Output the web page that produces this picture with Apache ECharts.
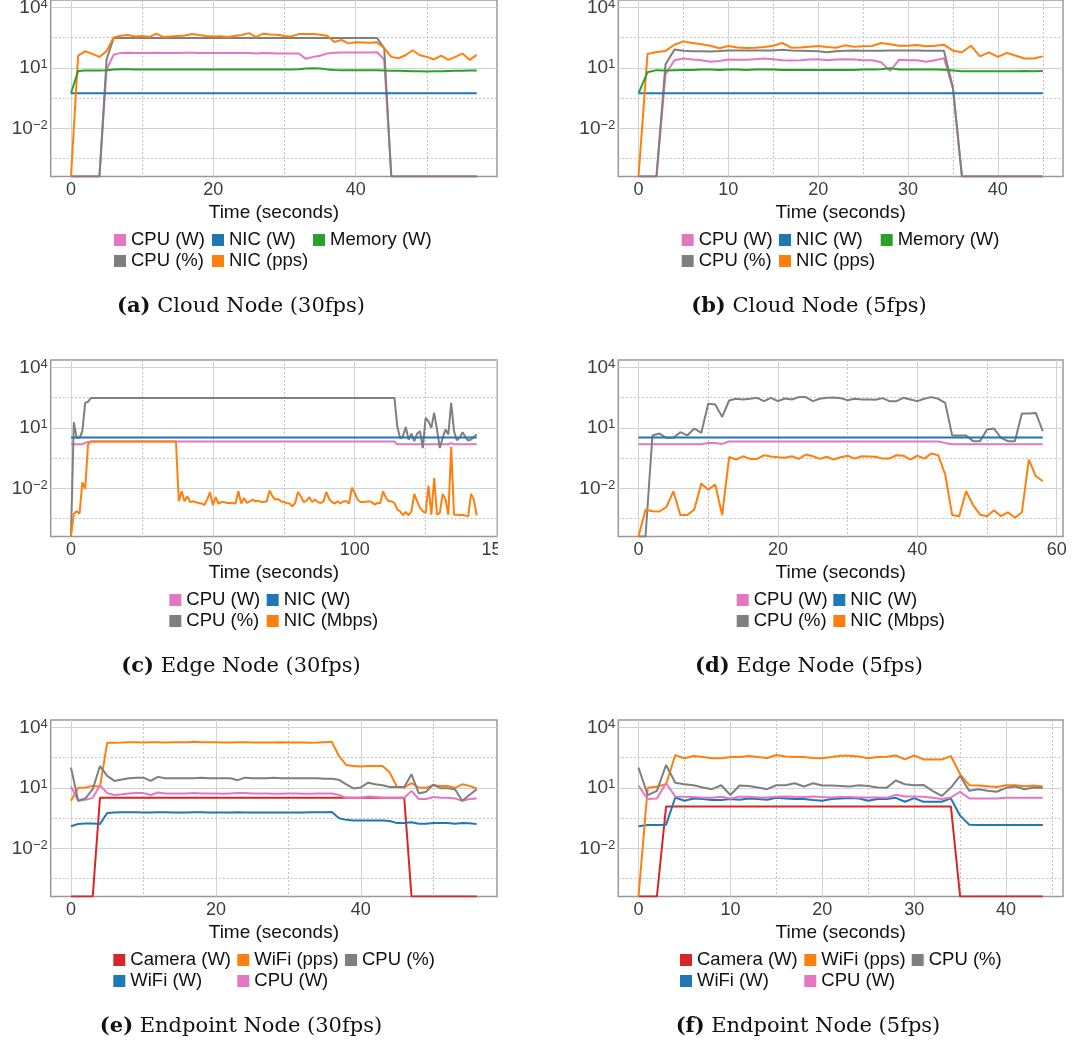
<!DOCTYPE html>
<html>
<head>
<meta charset="utf-8">
<title>Node power / load traces</title>
<script src="https://cdn.jsdelivr.net/npm/echarts@6/dist/echarts.min.js"></script>
<style>
  body { margin: 0; background: #fff; width: 1073px; height: 1042px; position: relative; overflow: hidden; }
  .panel { position: absolute; }
</style>
</head>
<body>
<div id="pa" class="panel" style="left:0;top:-1px;width:498px;height:342px"></div>
<div id="pb" class="panel" style="left:560px;top:-1px;width:513px;height:342px"></div>
<div id="pc" class="panel" style="left:0;top:359px;width:498px;height:342px"></div>
<div id="pd" class="panel" style="left:560px;top:359px;width:513px;height:342px"></div>
<div id="pe" class="panel" style="left:0;top:719px;width:498px;height:323px"></div>
<div id="pf" class="panel" style="left:560px;top:719px;width:513px;height:323px"></div>
<script>
// one sample per second, index = time in seconds. 0 = nothing measured (drawn on the bottom edge)

// (a) Cloud node, 30fps
var aCpuW = [
  0, 0, 0, 0, 0, 8.3, 45,
  55, 56, 55, 55, 55, 56, 55, 55, 55, 56, 56, 55, 54, 54, 54, 54, 55, 55, 54, 52, 54, 53, 52, 52, 52, 51,
  28, 35, 40, 52, 56, 57, 57, 57, 57, 57, 59, 26,
  0, 0, 0, 0, 0, 0, 0, 0, 0, 0, 0, 0, 0
];
var aCpuPct = [
  0, 0, 0, 0, 0, 26,
  300, 300, 300, 300, 300, 300, 300, 300, 300, 300, 300, 300, 300, 300, 300, 300, 300, 300,
  300, 300, 300, 300, 300, 300, 300, 300, 300, 300, 300, 300, 300, 300, 300, 300, 300, 300,
  300, 300,
  96,
  0, 0, 0, 0, 0, 0, 0, 0, 0, 0, 0, 0, 0
];
var aNicW = [
  0.55, 0.55, 0.55, 0.55, 0.55, 0.55, 0.55, 0.55, 0.55, 0.55, 0.55, 0.55, 0.55, 0.55, 0.55, 0.55, 0.55, 0.55,
  0.55, 0.55, 0.55, 0.55, 0.55, 0.55, 0.55, 0.55, 0.55, 0.55, 0.55, 0.55, 0.55, 0.55, 0.55, 0.55, 0.55, 0.55,
  0.55, 0.55, 0.55, 0.55, 0.55, 0.55, 0.55, 0.55, 0.55, 0.55, 0.55, 0.55, 0.55, 0.55, 0.55, 0.55, 0.55, 0.55,
  0.55, 0.55, 0.55, 0.55
];
var aNicPps = [
  0, 40, 66, 49, 35, 66, 323, 390, 420, 360,
  375, 333, 490, 333, 360, 380, 400, 470, 420, 380,
  360, 370, 333, 380, 420, 525, 333, 490, 450, 435,
  380, 360, 470, 470, 470, 430, 390, 190, 240, 163,
  183, 180, 175, 183, 96, 35, 30, 42, 74, 42,
  35, 26, 40, 25, 35, 51, 25, 44
];
var aMem = [
  0.55, 6.9, 7.4, 7.4, 7.5, 7.6, 8.4, 8.6, 8.6, 8.4,
  8.4, 8.2, 8.2, 8.2, 8.2, 8.2, 8.4, 8.4, 8.2, 8.2,
  8.2, 8.2, 8.2, 8.2, 8.2, 8.4, 8.2, 8.2, 8.2, 8.2,
  8.2, 8.4, 8.6, 9.4, 9.6, 9.4, 8.4, 7.9, 7.7, 7.7,
  7.7, 7.7, 7.7, 7.7, 7.4, 7.2, 7.2, 7.0, 6.8, 6.8,
  6.6, 6.8, 6.8, 7.0, 7.2, 7.2, 7.4, 7.4
];

// (b) Cloud node, 5fps
var bCpuW = [
  0, 0, 0, 4.7, 24, 29, 26, 24, 20, 22,
  26, 25, 25, 27, 29, 27, 24, 23, 24, 26,
  27, 24, 26, 27, 26, 24, 24, 19, 7.1, 25,
  24, 24, 20, 24, 30, 0.93, 0, 0, 0, 0,
  0, 0, 0, 0, 0, 0
];
var bCpuPct = [
  0, 0, 0, 14.6, 80, 71, 67, 66, 65, 68,
  72, 72, 72, 72, 72, 72, 78, 72, 70, 68,
  66, 60, 66, 70, 72, 70, 70, 70, 72, 72,
  72, 72, 70, 70, 71, 1.04, 0, 0, 0, 0,
  0, 0, 0, 0, 0, 0
];
var bNicW = [
  0.55, 0.55, 0.55, 0.55, 0.55, 0.55, 0.55, 0.55, 0.55, 0.55, 0.55, 0.55, 0.55, 0.55, 0.55, 0.55, 0.55, 0.55,
  0.55, 0.55, 0.55, 0.55, 0.55, 0.55, 0.55, 0.55, 0.55, 0.55, 0.55, 0.55, 0.55, 0.55, 0.55, 0.55, 0.55, 0.55,
  0.55, 0.55, 0.55, 0.55, 0.55, 0.55, 0.55, 0.55, 0.55, 0.55
];
var bNicPps = [
  0, 49, 61, 69, 140, 205, 170, 146, 125, 93,
  120, 103, 96, 100, 108, 125, 170, 100, 103, 112,
  120, 108, 100, 130, 112, 116, 120, 170, 146, 125,
  125, 135, 116, 125, 140, 71, 59, 125, 37, 59,
  35, 55, 40, 29, 29, 37
];
var bMem = [
  0.55, 6.1, 7.7, 7.4, 7.7, 7.9, 7.9, 8.2, 8.2, 7.9,
  8.2, 8.2, 7.9, 8.2, 8.2, 8.4, 7.9, 7.9, 7.9, 7.9,
  7.9, 7.9, 7.9, 7.9, 7.9, 8.2, 8.2, 8.6, 9.6, 8.2,
  8.2, 8.2, 8.2, 8.2, 8.0, 7.4, 6.8, 6.8, 6.8, 6.8,
  6.8, 6.8, 6.8, 7.0, 6.8, 7.0
];

// (c) Edge node, 30fps
var cCpuW = [
  1.55, 1.55, 1.55, 1.55, 1.55, 1.8, 2.0,
  2.1, 2.1, 2.1, 2.1, 2.1, 2.1, 2.1, 2.1, 2.1, 2.1, 2.1, 2.1, 2.1, 2.1, 2.1, 2.1, 2.1, 2.1,
  2.1, 2.1, 2.1, 2.1, 2.1, 2.1, 2.1, 2.1, 2.1, 2.1, 2.1, 2.1, 2.1, 2.1, 2.1, 2.1, 2.1, 2.1,
  2.1, 2.1, 2.1, 2.1, 2.1, 2.1, 2.1, 2.1, 2.1, 2.1, 2.1, 2.1, 2.1, 2.1, 2.1, 2.1, 2.1, 2.1,
  2.1, 2.1, 2.1, 2.1, 2.1, 2.1, 2.1, 2.1, 2.1, 2.1, 2.1, 2.1, 2.1, 2.1, 2.1, 2.1, 2.1, 2.1,
  2.1, 2.1, 2.1, 2.1, 2.1, 2.1, 2.1, 2.1, 2.1, 2.1, 2.1, 2.1, 2.1, 2.1, 2.1, 2.1, 2.1, 2.1,
  2.1, 2.1, 2.1, 2.1, 2.1, 2.1, 2.1, 2.1, 2.1, 2.1, 2.1, 2.1, 2.1, 2.1, 2.1, 2.1, 2.1, 2.1,
  1.55, 1.55, 1.55, 1.55, 1.55, 1.55, 1.55, 1.55, 1.55, 1.55, 1.55, 1.55, 1.55, 1.55, 1.55, 1.55, 1.55, 1.55, 1.55,
  1.75,
  1.55, 1.55, 1.55, 1.55, 1.55, 1.55, 1.55, 1.55, 1.55
];
var cCpuPct = [
  0, 19, 3.2, 3.2, 6.8, 173, 195,
  300, 300, 300, 300, 300, 300, 300, 300, 300, 300, 300, 300, 300, 300, 300, 300, 300, 300,
  300, 300, 300, 300, 300, 300, 300, 300, 300, 300, 300, 300, 300, 300, 300, 300, 300, 300,
  300, 300, 300, 300, 300, 300, 300, 300, 300, 300, 300, 300, 300, 300, 300, 300, 300, 300,
  300, 300, 300, 300, 300, 300, 300, 300, 300, 300, 300, 300, 300, 300, 300, 300, 300, 300,
  300, 300, 300, 300, 300, 300, 300, 300, 300, 300, 300, 300, 300, 300, 300, 300, 300, 300,
  300, 300, 300, 300, 300, 300, 300, 300, 300, 300, 300, 300, 300, 300, 300, 300, 300, 300,
  12, 3.0, 3.9, 11, 2.6, 5.2, 2.2, 5.2, 6.8, 1.0,
  31, 21, 10, 55, 8.3, 1.0, 3.2, 8.3, 4.7, 173,
  6.8, 2.45, 3.2, 6.1, 3.6, 2.35, 2.6, 3.6, 4.7
];
var cNicW = [
  3.3, 3.3, 3.3, 3.3, 3.3, 3.3, 3.3, 3.3, 3.3, 3.3, 3.3, 3.3, 3.3, 3.3, 3.3, 3.3, 3.3, 3.3,
  3.3, 3.3, 3.3, 3.3, 3.3, 3.3, 3.3, 3.3, 3.3, 3.3, 3.3, 3.3, 3.3, 3.3, 3.3, 3.3, 3.3, 3.3,
  3.3, 3.3, 3.3, 3.3, 3.3, 3.3, 3.3, 3.3, 3.3, 3.3, 3.3, 3.3, 3.3, 3.3, 3.3, 3.3, 3.3, 3.3,
  3.3, 3.3, 3.3, 3.3, 3.3, 3.3, 3.3, 3.3, 3.3, 3.3, 3.3, 3.3, 3.3, 3.3, 3.3, 3.3, 3.3, 3.3,
  3.3, 3.3, 3.3, 3.3, 3.3, 3.3, 3.3, 3.3, 3.3, 3.3, 3.3, 3.3, 3.3, 3.3, 3.3, 3.3, 3.3, 3.3,
  3.3, 3.3, 3.3, 3.3, 3.3, 3.3, 3.3, 3.3, 3.3, 3.3, 3.3, 3.3, 3.3, 3.3, 3.3, 3.3, 3.3, 3.3,
  3.3, 3.3, 3.3, 3.3, 3.3, 3.3, 3.3, 3.3, 3.3, 3.3, 3.3, 3.3, 3.3, 3.3, 3.3, 3.3, 3.3, 3.3,
  3.3, 3.3, 3.3, 3.3, 3.3, 3.3, 3.3, 3.3, 3.3, 3.3, 3.3, 3.3, 3.3, 3.3, 3.3, 3.3, 3.3, 3.3
];
var cNicMbps = [
  0, 0.00056, 0.00074, 0.00056, 0.020, 0.0095, 1.5, 2.1, 2.1, 2.1,
  2.1, 2.1, 2.1, 2.1, 2.1, 2.1, 2.1, 2.1, 2.1, 2.1,
  2.1, 2.1, 2.1, 2.1, 2.1, 2.1, 2.1, 2.1, 2.1, 2.1,
  2.1, 2.1, 2.1, 2.1, 2.1, 2.1, 2.1, 2.1,
  0.0023, 0.0072,
  0.0023, 0.0041, 0.0021, 0.0023, 0.0021, 0.0019, 0.0018, 0.0015, 0.0028, 0.0065,
  0.0015, 0.0037, 0.0018, 0.0021, 0.0021, 0.0019, 0.0019, 0.0019, 0.0018, 0.0072,
  0.0018, 0.0034, 0.0019, 0.0023, 0.0028, 0.0023, 0.0025, 0.0021, 0.0021, 0.0023,
  0.0078, 0.0041, 0.0028, 0.0030, 0.0023, 0.0021, 0.0019, 0.0018, 0.0013, 0.0019,
  0.0067, 0.0041, 0.0021, 0.0025, 0.0037, 0.0021, 0.0028, 0.0021, 0.0019, 0.0023,
  0.0067, 0.0030, 0.0021, 0.0018, 0.0023, 0.0018, 0.0023, 0.0023, 0.0018, 0.011,
  0.0060, 0.0028, 0.0021, 0.0021, 0.0022, 0.0023, 0.0021, 0.0016, 0.0019, 0.0019,
  0.0072, 0.0034, 0.0023, 0.0023, 0.0019, 0.00089, 0.00074, 0.00047, 0.00068, 0.00047,
  0.00074, 0.0054, 0.0023, 0.0011, 0.00074, 0.00061, 0.0138, 0.0005, 0.033, 0.0005,
  0.00061, 0.0054, 0.0028, 0.0005, 1.14, 0.0005, 0.0005, 0.00047, 0.0005, 0.00045,
  0.00042, 0.0054, 0.0028, 0.00045
];

// (d) Edge node, 5fps
var dCpuW = [
  1.55, 1.55, 1.55, 1.55, 1.55, 1.55, 1.55, 1.55, 1.55, 1.55,
  1.8, 1.8, 1.6,
  2.1, 2.1, 2.1, 2.1, 2.1, 2.1, 2.1, 2.1, 2.1, 2.1, 2.1, 2.1, 2.1, 2.1, 2.1, 2.1, 2.1, 2.1,
  2.1, 2.1, 2.1, 2.1, 2.1, 2.1, 2.1, 2.1, 2.1, 2.1, 2.1, 2.1, 2.1,
  1.8,
  1.55, 1.55, 1.55, 1.55, 1.55, 1.55, 1.55, 1.55, 1.55, 1.55, 1.55, 1.55, 1.55, 1.55
];
var dCpuPct = [
  0, 0, 4.2, 5.2, 3.2, 3.2, 6.1, 4.2, 9.3, 5.6,
  155, 144, 35, 226, 275, 254, 275, 307, 210, 307,
  210, 285, 254, 333, 333, 210, 275, 307, 320, 296,
  235, 275, 254, 254, 245, 296, 210, 210, 307, 254,
  210, 275, 333, 275, 173, 4.2, 4.2, 4.2, 2.2, 2.2,
  8.3, 9.3, 3.2, 2.2, 2.2, 51, 51, 55, 6.8
];
var dNicW = [
  3.3, 3.3, 3.3, 3.3, 3.3, 3.3, 3.3, 3.3, 3.3, 3.3, 3.3, 3.3, 3.3, 3.3, 3.3, 3.3, 3.3, 3.3,
  3.3, 3.3, 3.3, 3.3, 3.3, 3.3, 3.3, 3.3, 3.3, 3.3, 3.3, 3.3, 3.3, 3.3, 3.3, 3.3, 3.3, 3.3,
  3.3, 3.3, 3.3, 3.3, 3.3, 3.3, 3.3, 3.3, 3.3, 3.3, 3.3, 3.3, 3.3, 3.3, 3.3, 3.3, 3.3, 3.3,
  3.3, 3.3, 3.3, 3.3, 3.3
];
var dNicMbps = [
  0, 0.00089, 0.00074, 0.00072, 0.0012, 0.0072, 0.00048, 0.00048, 0.00089, 0.0174,
  0.0087, 0.0155, 0.00048, 0.36, 0.27, 0.39, 0.29, 0.29, 0.44, 0.38,
  0.35, 0.33, 0.39, 0.29, 0.48, 0.39, 0.29, 0.37, 0.27, 0.35,
  0.42, 0.30, 0.39, 0.38, 0.37, 0.30, 0.30, 0.44, 0.42, 0.27,
  0.42, 0.30, 0.54, 0.44, 0.049, 0.00048, 0.00042, 0.0072, 0.0015, 0.0005,
  0.00042, 0.00084, 0.00042, 0.00066, 0.00035, 0.00066, 0.27, 0.040, 0.023
];

// (e) Endpoint node, 30fps
var eCamW = [
  0, 0, 0, 0,
  3.2, 3.2, 3.2, 3.2, 3.2, 3.2, 3.2, 3.2, 3.2, 3.2, 3.2, 3.2, 3.2, 3.2, 3.2, 3.2, 3.2, 3.2,
  3.2, 3.2, 3.2, 3.2, 3.2, 3.2, 3.2, 3.2, 3.2, 3.2, 3.2, 3.2, 3.2, 3.2, 3.2, 3.2, 3.2, 3.2,
  3.2, 3.2, 3.2, 3.2, 3.2, 3.2, 3.2,
  0, 0, 0, 0, 0, 0, 0, 0, 0, 0
];
var eWifiW = [
  0.126, 0.164, 0.17, 0.17, 0.164, 0.57,
  0.61, 0.62, 0.62, 0.62, 0.61, 0.61, 0.62, 0.62, 0.61, 0.61, 0.61, 0.62, 0.62, 0.61, 0.61, 0.61,
  0.61, 0.62, 0.61, 0.61, 0.61, 0.61, 0.61, 0.61, 0.61, 0.61, 0.61, 0.62, 0.62, 0.62, 0.63,
  0.31, 0.26, 0.24, 0.24, 0.24, 0.24, 0.24, 0.23, 0.18, 0.18,
  0.196, 0.165, 0.165, 0.18, 0.18, 0.18, 0.165, 0.18, 0.175, 0.16
];
var eWifiPps = [
  2.3, 10, 10.4, 12.5, 11.6, 1700,
  1700, 1760, 1830, 1830, 1760, 1830, 1830, 1760, 1830, 1830,
  1830, 1900, 1830, 1830, 1830, 1760, 1760, 1830, 1830, 1760,
  1760, 1760, 1760, 1830, 1760, 1760, 1760, 1700, 1760, 1830, 1900,
  370, 135, 120, 115, 120, 120, 120, 57, 11, 10.4,
  17, 10.4, 10, 13.5, 12.5, 12.5, 10, 15, 12.5, 9.3
];
var eCpuW = [
  11.6, 2.3, 2.6, 3.2, 13.5, 5.5, 4.4, 4.8, 5.3, 5.5, 5.5, 4.4, 5.9,
  5.3, 5.3, 5.3, 5.3, 5.5, 5.3, 5.3, 5.3, 5.1, 5.3,
  5.5, 5.5, 5.3, 5.3, 5.3, 5.1, 5.1, 5.3, 5.3, 5.1,
  5.1, 5.3, 5.3, 5.3,
  4.4, 3.2, 3.2, 3.2, 3.7, 3.5, 3.2, 3.2, 3.2, 3.2,
  7.1, 2.8, 2.8, 3.5, 3.2, 3.2, 3.0, 2.3, 2.8, 3.0
];
var eCpuPct = [
  100, 2.3, 3.0, 8.6, 120, 39, 22, 26, 30, 32, 32, 22, 35,
  30, 30, 30, 30, 30, 32, 30, 30, 30, 30,
  24, 32, 30, 30, 30, 32, 30, 30, 30, 30,
  30, 30, 28, 28,
  25, 15, 9.3, 10.4, 18, 15, 13.5, 11, 11, 11,
  47, 5.3, 6.4, 14.6, 9.6, 9.6, 8.6, 2.3, 4.4, 8.6
];

// (f) Endpoint node, 5fps
var fCamW = [
  0, 0, 0,
  1.2, 1.2, 1.2, 1.2, 1.2, 1.2, 1.2, 1.2, 1.2, 1.2, 1.2, 1.2, 1.2, 1.2, 1.2, 1.2, 1.2, 1.2,
  1.2, 1.2, 1.2, 1.2, 1.2, 1.2, 1.2, 1.2, 1.2, 1.2, 1.2, 1.2, 1.2, 1.2,
  0, 0, 0, 0, 0, 0, 0, 0, 0, 0
];
var fWifiW = [
  0.126, 0.145, 0.145, 0.15, 3.35, 2.3, 3.0, 2.8, 2.5, 2.5,
  2.8, 2.6, 3.0, 2.8, 2.6, 3.2, 3.0, 2.8, 2.8, 2.5,
  2.3, 2.8, 3.0, 3.1, 3.0, 2.3, 2.8, 2.8, 3.2, 2.05,
  3.1, 2.05, 2.05, 2.05, 3.0, 0.42, 0.15, 0.145, 0.145, 0.145,
  0.145, 0.145, 0.145, 0.145, 0.145
];
var fWifiPps = [
  0, 10, 11.6, 15, 420, 290, 375, 335, 290, 290,
  335, 335, 375, 335, 300, 420, 360, 335, 335, 300,
  290, 335, 390, 390, 360, 290, 335, 350, 400, 255,
  400, 255, 255, 255, 375, 47, 13.5, 13, 12, 11,
  13.5, 13.5, 12, 13, 11.6
];
var fCpuW = [
  12.5, 2.8, 3.0, 17, 3.75, 3.6, 3.5, 3.2, 3.2, 3.6,
  3.0, 3.6, 3.6, 3.35, 3.35, 3.6, 3.75, 3.6, 3.5, 3.75,
  3.5, 3.35, 3.5, 3.5, 3.35, 3.35, 3.35, 3.2, 4.5, 3.75,
  3.75, 3.6, 3.2, 2.8, 3.35, 6.4, 3.0, 3.0, 3.0, 3.0,
  3.2, 3.2, 3.2, 3.2, 3.2
];
var fCpuPct = [
  100, 4.4, 7.1, 135, 18, 15, 13.5, 10.4, 8.6, 13.5,
  4.4, 13, 12.5, 10.4, 8.6, 13.5, 13.5, 17, 11.6, 17,
  13, 13, 12.5, 11.6, 13.5, 12.5, 10.4, 10, 23, 15,
  13.5, 14, 7.1, 4.0, 10.4, 39, 7.1, 8.6, 7.1, 6.4,
  10, 11.6, 8.6, 10.4, 10
];

// log10 axis ticks
var yMajor = [-2, 1, 4];
var yMinor = [-3.5, -0.5, 2.5];

var PINK = '#e377c2', GREY = '#7f7f7f', BLUE = '#1f77b4', ORANGE = '#ff7f0e', GREEN = '#2ca02c', RED = '#d62728';
var YMIN = -4.38, YMAX = 4.36;
var SANS = 'Liberation Sans', SERIF = 'DejaVu Serif';

function lg(v) {
  return v > 0 ? Math.log10(v) : YMIN;
}

var panels = [
  {id: 'pa', tag: '(a)', cap: 'Cloud Node (30fps)', left: 50.7, width: 446.3, capX: 241,
   xmin: -2.85, xmax: 59.85, major: [0, 20, 40], minor: [10, 30, 50],
   lines: [['CPU (W)', aCpuW, PINK], ['CPU (%)', aCpuPct, GREY], ['NIC (W)', aNicW, BLUE], ['NIC (pps)', aNicPps, ORANGE], ['Memory (W)', aMem, GREEN]],
   cols: [[114, ['CPU (W)', 'CPU (%)']], [212, ['NIC (W)', 'NIC (pps)']], [313, ['Memory (W)']]]},
  {id: 'pb', tag: '(b)', cap: 'Cloud Node (5fps)', left: 58.3, width: 444.7, capX: 249,
   xmin: -2.25, xmax: 47.25, major: [0, 10, 20, 30, 40], minor: [5, 15, 25, 35, 45],
   lines: [['CPU (W)', bCpuW, PINK], ['CPU (%)', bCpuPct, GREY], ['NIC (W)', bNicW, BLUE], ['NIC (pps)', bNicPps, ORANGE], ['Memory (W)', bMem, GREEN]],
   cols: [[121.7, ['CPU (W)', 'CPU (%)']], [219, ['NIC (W)', 'NIC (pps)']], [320.7, ['Memory (W)']]]},
  {id: 'pc', tag: '(c)', cap: 'Edge Node (30fps)', left: 50.7, width: 446.3, capX: 241,
   xmin: -7.15, xmax: 150.15, major: [0, 50, 100, 150], minor: [25, 75, 125],
   lines: [['CPU (W)', cCpuW, PINK], ['CPU (%)', cCpuPct, GREY], ['NIC (W)', cNicW, BLUE], ['NIC (Mbps)', cNicMbps, ORANGE]],
   cols: [[169.3, ['CPU (W)', 'CPU (%)']], [266.7, ['NIC (W)', 'NIC (Mbps)']]]},
  {id: 'pd', tag: '(d)', cap: 'Edge Node (5fps)', left: 58.3, width: 444.7, capX: 249,
   xmin: -2.9, xmax: 60.9, major: [0, 20, 40, 60], minor: [10, 30, 50],
   lines: [['CPU (W)', dCpuW, PINK], ['CPU (%)', dCpuPct, GREY], ['NIC (W)', dNicW, BLUE], ['NIC (Mbps)', dNicMbps, ORANGE]],
   cols: [[176.7, ['CPU (W)', 'CPU (%)']], [273.3, ['NIC (W)', 'NIC (Mbps)']]]},
  {id: 'pe', tag: '(e)', cap: 'Endpoint Node (30fps)', left: 50.7, width: 446.3, capX: 241,
   xmin: -2.8, xmax: 58.8, major: [0, 20, 40], minor: [10, 30, 50],
   lines: [['Camera (W)', eCamW, RED], ['WiFi (W)', eWifiW, BLUE], ['WiFi (pps)', eWifiPps, ORANGE], ['CPU (W)', eCpuW, PINK], ['CPU (%)', eCpuPct, GREY]],
   cols: [[113.3, ['Camera (W)', 'WiFi (W)']], [237.3, ['WiFi (pps)', 'CPU (W)']], [345, ['CPU (%)']]]},
  {id: 'pf', tag: '(f)', cap: 'Endpoint Node (5fps)', left: 58.3, width: 444.7, capX: 248,
   xmin: -2.2, xmax: 46.2, major: [0, 10, 20, 30, 40], minor: [5, 15, 25, 35, 45],
   lines: [['Camera (W)', fCamW, RED], ['WiFi (W)', fWifiW, BLUE], ['WiFi (pps)', fWifiPps, ORANGE], ['CPU (W)', fCpuW, PINK], ['CPU (%)', fCpuPct, GREY]],
   cols: [[120, ['Camera (W)', 'WiFi (W)']], [244.3, ['WiFi (pps)', 'CPU (W)']], [351.7, ['CPU (%)']]]}
];

function supLabel(v) {
  var e = v < 0 ? '\u2212' + (-v) : '' + v;
  return '{b|10}{s|' + e + '}';
}

function buildOption(p) {
  var gridMajor = {show: true, lineStyle: {color: '#d2d2d2', width: 1}};
  var gridMinor = {show: true, lineStyle: {color: '#c2c2c2', width: 1, type: [2, 2]}};
  var off = {show: false};
  return {
    animation: false,
    grid: {left: p.left, top: 1, width: p.width, height: 176.5, show: true,
           borderColor: '#999999', borderWidth: 1.5, outerBoundsMode: 'none', containLabel: false},
    xAxis: [
      {type: 'value', min: p.xmin, max: p.xmax, axisLine: off,
       axisTick: {show: false, customValues: p.major},
       axisLabel: {customValues: p.major, margin: 5, fontSize: 18, fontFamily: SANS, color: '#3d3d3d'},
       splitLine: gridMajor,
       name: 'Time (seconds)', nameLocation: 'middle', nameGap: 26.5, nameMoveOverlap: false,
       nameTextStyle: {fontSize: 19, fontFamily: SANS, color: '#111'}},
      {type: 'value', min: p.xmin, max: p.xmax, position: 'bottom', axisLine: off,
       axisTick: {show: false, customValues: p.minor}, axisLabel: off, splitLine: gridMinor}
    ],
    yAxis: [
      {type: 'value', min: YMIN, max: YMAX, axisLine: off,
       axisTick: {show: false, customValues: yMajor},
       axisLabel: {customValues: yMajor, margin: 3, formatter: supLabel, color: '#3d3d3d',
                   rich: {b: {fontSize: 19, lineHeight: 19, padding: [5, 0, 0, 0], verticalAlign: 'bottom', fontFamily: SANS, color: '#3d3d3d'},
                          s: {fontSize: 13, lineHeight: 13, verticalAlign: 'top', fontFamily: SANS, color: '#3d3d3d'}}},
       splitLine: gridMajor},
      {type: 'value', min: YMIN, max: YMAX, position: 'right', axisLine: off,
       axisTick: {show: false, customValues: yMinor}, axisLabel: off, splitLine: gridMinor}
    ],
    legend: p.cols.map(function (c) {
      return {orient: 'vertical', left: c[0], top: 230.5, padding: 0, itemGap: 0,
              itemWidth: 12, itemHeight: 12, icon: 'rect', selectedMode: false,
              textStyle: {fontSize: 18.5, fontFamily: SANS, color: '#111', lineHeight: 21},
              data: c[1]};
    }),
    graphic: [{
      type: 'text', x: p.capX, y: 307.5, silent: true,
      style: {text: '{b|' + p.tag + '} ' + p.cap, fill: '#111', fontFamily: SERIF, fontSize: 21,
              align: 'center', verticalAlign: 'middle',
              rich: {b: {fontFamily: SERIF, fontSize: 21, fontWeight: 'bold', fill: '#111'}}}
    }],
    series: p.lines.map(function (l) {
      return {type: 'line', name: l[0], xAxisIndex: 0, yAxisIndex: 0,
              data: l[1].map(function (v, i) { return [i, lg(v)]; }),
              symbol: 'none', clip: true,
              lineStyle: {width: 2, color: l[2]}, itemStyle: {color: l[2]}};
    })
  };
}

panels.forEach(function (p) {
  var chart = echarts.init(document.getElementById(p.id));
  chart.setOption(buildOption(p));
});
</script>
</body>
</html>
